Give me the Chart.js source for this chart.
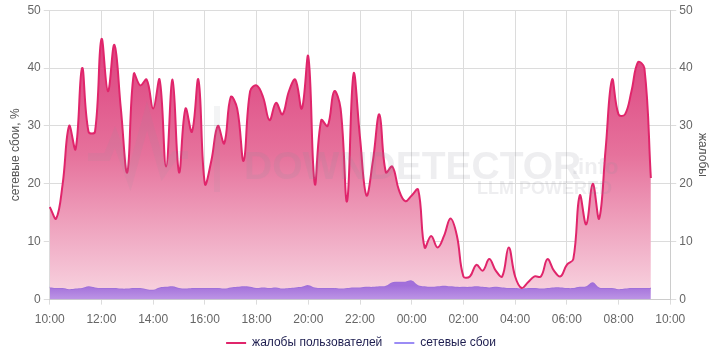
<!DOCTYPE html>
<html>
<head>
<meta charset="utf-8">
<script src="https://cdn.jsdelivr.net/npm/chart.js@4.4.0/dist/chart.umd.min.js"></script>
<style>
    html, body { margin: 0; padding: 0; background: #fff; }
    #wrap { width: 720px; height: 360px; }
</style>
</head>
<body>
<div id="wrap"><canvas id="chart" width="720" height="360"></canvas></div>
<script>
// метки по оси X: каждые 15 минут с 10:00 до 10:00
var timeLabels = [];
for (var m = 0; m <= 96; m++) {
    var h = (10 + Math.floor(m / 4)) % 24;
    var mm = (m % 4) * 15;
    timeLabels.push((h < 10 ? '0' : '') + h + ':' + (mm < 10 ? '0' : '') + mm);
}

// жалобы пользователей
var complaints = [
    16, 14, 20, 30, 26, 40, 29, 29, 45, 36,
    44, 33, 22, 39, 37, 38, 33, 38, 23, 38,
    22, 33, 29, 38, 20, 24, 30, 27, 35, 33,
    24, 36, 37, 35, 31, 34, 32, 36, 38, 33,
    42, 20, 31, 30, 36, 33, 17, 39, 28, 18,
    24, 32, 22, 23, 19, 17, 18, 19, 9, 11,
    9, 11, 14, 11, 4, 4, 6, 5, 7, 5,
    4, 9, 4, 2, 3, 4, 4, 7, 5, 4,
    6, 7, 18, 13, 20, 14, 26, 38, 32, 32,
    36, 41, 40, 21
];

// сетевые сбои, %
var failures = [
    2.1, 2.0, 2.0, 1.8, 1.9, 2.0, 2.3, 2.1, 2.0, 2.0,
    2.0, 1.9, 1.9, 2.0, 2.0, 1.8, 1.7, 2.1, 2.2, 2.3,
    2.0, 1.9, 2.0, 2.0, 2.0, 2.0, 2.0, 1.9, 2.1, 2.2,
    2.3, 2.2, 2.0, 2.1, 2.0, 2.1, 1.9, 2.0, 2.1, 2.2,
    2.5, 2.1, 2.0, 2.0, 2.0, 1.9, 2.0, 2.1, 2.1, 2.2,
    2.2, 2.3, 2.4, 3.0, 3.1, 3.1, 3.3, 2.5, 2.3, 2.2,
    2.3, 2.4, 2.3, 2.2, 2.2, 2.2, 2.3, 2.2, 2.1, 2.2,
    2.1, 2.0, 2.0, 1.9, 2.0, 2.0, 1.9, 2.0, 2.1, 2.1,
    2.0, 2.0, 2.2, 2.3, 3.0, 2.1, 2.0, 2.0, 1.8, 1.9,
    2.0, 2.0, 2.0, 2.0
];

var gridColor = '#dcdcdc';
var tickColor = '#666';
var fontFamily = '"Liberation Sans", Arial, sans-serif';

var pinkFill = function(ctx) {
    var area = ctx.chart.chartArea;
    if (!area) return 'rgba(224,80,130,0.6)';
    var g = ctx.chart.ctx.createLinearGradient(0, area.top, 0, area.bottom);
    g.addColorStop(0, '#d93476');
    g.addColorStop(0.5, '#e6729c');
    g.addColorStop(1, '#f8d6e2');
    return g;
};
var purpleFill = function(ctx) {
    var area = ctx.chart.chartArea;
    if (!area) return '#a877dc';
    var g = ctx.chart.ctx.createLinearGradient(0, area.bottom - 14, 0, area.bottom);
    g.addColorStop(0, '#a26fda');
    g.addColorStop(1, '#bd95e6');
    return g;
};

// водяной знак
var watermark = {
    id: 'watermark',
    afterDatasetsDraw: function(chart) {
        var c = chart.ctx;
        c.save();
        c.globalAlpha = 0.1;
        c.strokeStyle = '#8a9099';
        c.fillStyle = '#8a9099';
        c.lineWidth = 8;
        c.beginPath();
        c.moveTo(88, 157); c.lineTo(107, 157); c.lineTo(115, 137);
        c.lineTo(130, 178); c.lineTo(147, 116); c.lineTo(163, 172);
        c.lineTo(175, 155); c.lineTo(188, 155);
        c.stroke();
        c.fillRect(214, 106, 6, 86);
        c.globalAlpha = 0.15;
        c.font = 'bold 39px ' + fontFamily;
        c.fillText('DOWNDETECTOR', 244, 168);
        c.font = 'bold 22px ' + fontFamily;
        c.fillText('.info', 572, 168);
        c.font = 'bold 18px ' + fontFamily;
        c.fillText('LLM POWERED', 477, 189);
        c.restore();
    }
};

new Chart(document.getElementById('chart'), {
    type: 'line',
    data: {
        labels: timeLabels,
        datasets: [
            {
                label: 'жалобы пользователей',
                data: complaints,
                yAxisID: 'yRight',
                borderColor: '#e0256b',
                borderWidth: 2,
                backgroundColor: pinkFill,
                fill: '+1',
                tension: 0.4,
                pointRadius: 0
            },
            {
                label: 'сетевые сбои',
                data: failures,
                yAxisID: 'yLeft',
                borderColor: '#9d6fd9',
                borderWidth: 1.5,
                backgroundColor: purpleFill,
                fill: 'origin',
                tension: 0.4,
                pointRadius: 0
            }
        ]
    },
    options: {
        responsive: false,
        animation: false,
        layout: { padding: { left: 8, right: 6, top: 6, bottom: 1 } },
        plugins: {
            tooltip: { enabled: false },
            legend: {
                position: 'bottom',
                labels: {
                    color: '#1d1d4f',
                    font: { family: fontFamily, size: 12 },
                    boxWidth: 20,
                    boxHeight: 2,
                    padding: 2,
                    generateLabels: function(chart) {
                        var items = Chart.defaults.plugins.legend.labels.generateLabels(chart);
                        var cols = ['#e0256b', '#9b8cf5'];
                        items.forEach(function(it, i) {
                            it.fillStyle = cols[i];
                            it.strokeStyle = cols[i];
                            it.lineWidth = 0;
                            if (i === 0) it.text = it.text + '   ';
                        });
                        return items;
                    }
                }
            }
        },
        scales: {
            x: {
                grid: { color: gridColor, tickLength: 5 },
                border: { color: '#ccc' },
                ticks: {
                    autoSkip: false,
                    maxRotation: 0,
                    padding: 8,
                    color: tickColor,
                    font: { family: fontFamily, size: 12 },
                    callback: function(v, i) {
                        return i % 8 === 0 ? timeLabels[i] : null;
                    }
                }
            },
            yLeft: {
                position: 'left',
                min: 0, max: 50,
                grid: { color: gridColor, tickLength: 6 },
                border: { display: false },
                ticks: {
                    stepSize: 10,
                    color: tickColor,
                    font: { family: fontFamily, size: 12 }
                },
                title: {
                    display: true,
                    text: 'сетевые сбои, %',
                    color: '#555',
                    font: { family: fontFamily, size: 12 },
                    padding: { top: 0, bottom: 2 }
                }
            },
            yRight: {
                position: 'right',
                min: 0, max: 50,
                grid: { drawOnChartArea: false, color: gridColor, tickLength: 6 },
                border: { color: '#ccc' },
                ticks: {
                    stepSize: 10,
                    color: tickColor,
                    font: { family: fontFamily, size: 12 }
                },
                title: {
                    display: true,
                    text: 'жалобы',
                    color: '#555',
                    font: { family: fontFamily, size: 12 },
                    padding: { top: 4, bottom: 0 }
                }
            }
        }
    },
    plugins: [watermark]
});
</script>
</body>
</html>
